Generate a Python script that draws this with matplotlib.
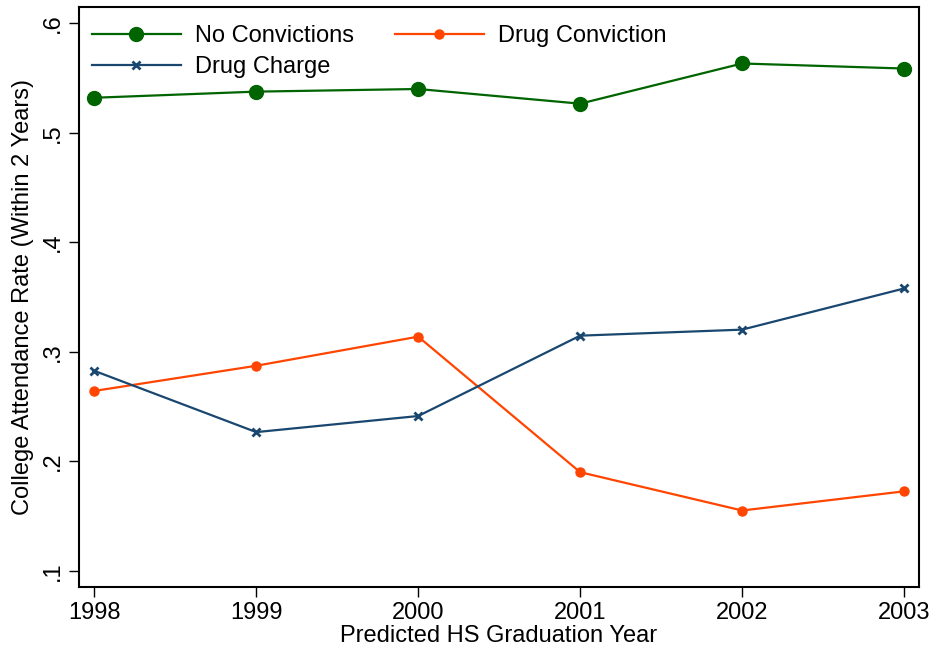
import matplotlib
matplotlib.use("Agg")
import matplotlib.pyplot as plt

plt.rcParams['font.family'] = ['Liberation Sans', 'DejaVu Sans']

years = [1998, 1999, 2000, 2001, 2002, 2003]
no_convictions = [0.532, 0.5376, 0.540, 0.5266, 0.5633, 0.5587]
drug_conviction = [0.2642, 0.2872, 0.3138, 0.190, 0.155, 0.1725]
drug_charge = [0.2826, 0.2266, 0.2413, 0.3147, 0.3202, 0.3578]

y_ticks = [0.1, 0.2, 0.3, 0.4, 0.5, 0.6]
y_ticklabels = [".1", ".2", ".3", ".4", ".5", ".6"]

green = "#006400"
orange = "#ff4500"
navy = "#1a476f"

fig = plt.figure(figsize=(9.36, 6.54), dpi=100)
ax = fig.add_axes([0.0839, 0.1024, 0.8981, 0.8869])

l1, = ax.plot(years, no_convictions, color=green, lw=1.6, marker="o", ms=10,
              label="No Convictions")
l2, = ax.plot(years, drug_conviction, color=orange, lw=1.6, marker="o", ms=6.5,
              label="Drug Conviction")
l3, = ax.plot(years, drug_charge, color=navy, lw=1.6, marker="x", ms=5.5, mew=2,
              label="Drug Charge")

ax.set_xlim(1997.903, 2003.093)
ax.set_ylim(0.0851, 0.6149)
ax.set_xticks(years)
ax.set_xticklabels([str(y) for y in years])
ax.set_yticks(y_ticks)
ax.set_yticklabels(y_ticklabels, rotation=90, va="center")

ax.tick_params(axis="both", labelsize=17, length=7, width=1, direction="out")
for s in ax.spines.values():
    s.set_linewidth(1.5)

ax.set_xlabel("Predicted HS Graduation Year", fontsize=17, labelpad=1)
ax.set_ylabel("College Attendance Rate (Within 2 Years)", fontsize=17, labelpad=6)

# row-major order for 2 columns
ax.legend([l1, l3, l2], ["No Convictions", "Drug Charge", "Drug Conviction"],
          ncol=2, frameon=False, fontsize=17, loc="upper left",
          bbox_to_anchor=(0.005, 0.985), borderaxespad=0.2, borderpad=0.2,
          handlelength=3.75, handletextpad=0.6, columnspacing=1.75,
          labelspacing=0.38)

fig.savefig("out.png", dpi=100)
